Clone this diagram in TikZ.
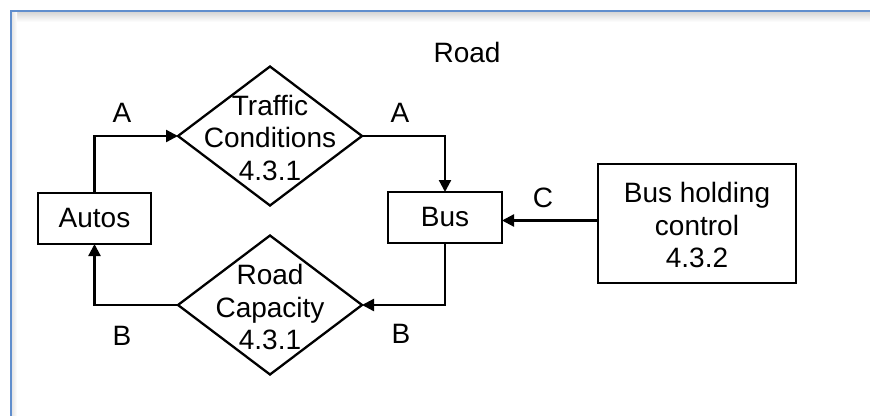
\documentclass[tikz,border=0pt]{standalone}
\usepackage{fontspec}
\setmainfont{Liberation Sans}
\usetikzlibrary{arrows.meta,shapes.geometric}
\definecolor{framebl}{RGB}{96,142,205}
\tikzset{
  txt/.style={font={\fontsize{28}{32.5}\selectfont}, inner sep=0pt, outer sep=0pt},
  boxnode/.style={txt, draw, line width=2.3pt, minimum width=#1},
  diam/.style={draw, line width=2.3pt, shape=diamond, inner sep=0pt, outer sep=0pt,
               minimum width=184pt, minimum height=139pt},
  arr/.style={line width=2.3pt, -{Triangle[length=12pt,width=12pt]}},
  lab/.style={txt, anchor=base}
}
\begin{document}
\begin{tikzpicture}[x=1pt,y=-1pt]
\useasboundingbox (0,0) rectangle (870,415);
% frame
\shade[top color=black!16, bottom color=white] (12,12) rectangle (870,22);
\shade[left color=black!10, right color=white] (12,12) rectangle (17,415);
\draw[framebl, line width=2.2pt] (11,420) -- (11,11) -- (880,11);
% title
\node[lab] (road) at (467,62) {Road};
% nodes
\node[boxnode=113pt, minimum height=51pt] (autos) at (94.5,218.5) {Autos};
\node[boxnode=114pt, minimum height=51pt] (bus) at (445,217.5) {Bus};
\node[boxnode=198pt, minimum height=119pt] (hold) at (697,223.5) {};
\node[txt, align=center] (holdt) at (697,225) {Bus holding\\control\\4.3.2};
\node[diam] (tc) at (270,136) {};
\node[txt, align=center] (tct) at (270,137.5) {Traffic\\Conditions\\4.3.1};
\node[diam] (rc) at (270,305) {};
\node[txt, align=center] (rct) at (270,307) {Road\\Capacity\\4.3.1};
% connectors
\draw[arr] (autos.north) |- (tc.west);
\draw[arr] (tc.east) -| (bus.north);
\draw[arr] (bus.south) |- (rc.east);
\draw[arr] (rc.west) -| (autos.south);
\coordinate (c) at ([yshift=3pt]hold.west);
\draw[arr] (c) -- (c -| bus.east);
% labels
\node[lab] (la1) at (122,122) {A};
\node[lab] (la2) at (400,122) {A};
\node[lab] (lc) at (543,207) {C};
\node[lab] (lb1) at (122,345) {B};
\node[lab] (lb2) at (401,343) {B};
\end{tikzpicture}
\end{document}
